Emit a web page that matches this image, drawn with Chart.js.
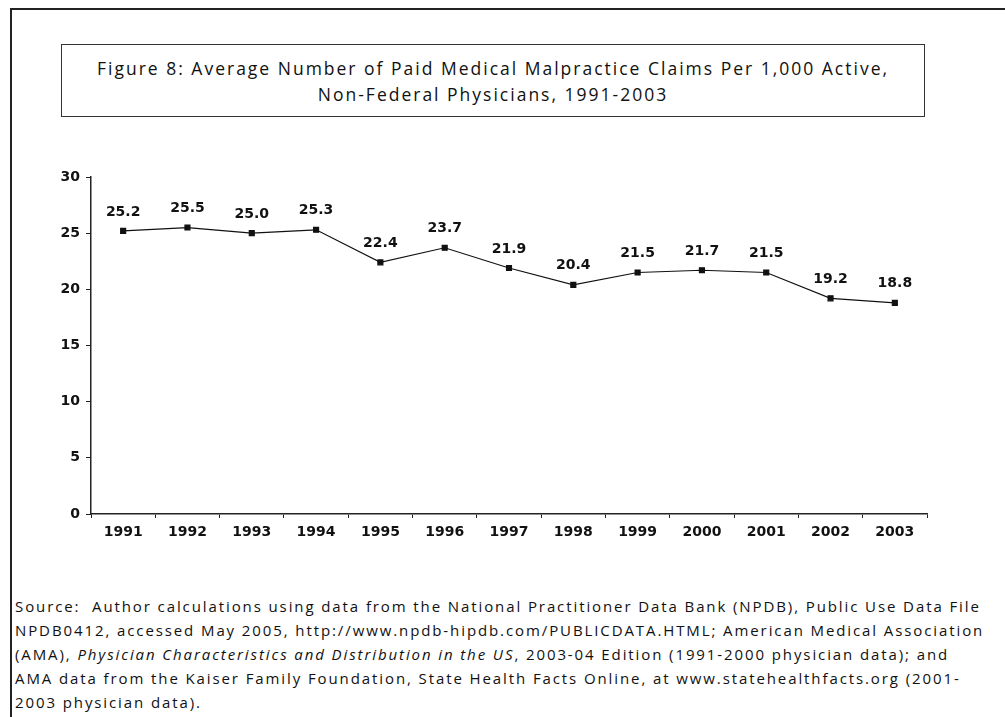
<!DOCTYPE html>
<html>
<head>
<meta charset="utf-8">
<script src="https://cdn.jsdelivr.net/npm/chart.js@4.4.1/dist/chart.umd.min.js"></script>
<style>
  html, body { margin: 0; padding: 0; background: #fff; }
  body { width: 1005px; height: 717px; position: relative; overflow: hidden; }
  #frame { position: absolute; left: 10px; top: 8px; width: 1000px; height: 720px;
           border-left: 2px solid #222; border-top: 2px solid #222; }
  #titlebox { position: absolute; left: 61px; top: 44px; width: 862px; height: 71px;
              border: 1.5px solid #333; font-family: "Open Sans", "Noto Sans", sans-serif;
              font-size: 17.5px; letter-spacing: 2px; color: #111; text-align: center; line-height: 26px;
              box-sizing: content-box; }
  #titlebox .inner { padding-top: 10px; }
  #source { position: absolute; left: 15px; top: 594px; width: 990px;
            font-family: "Open Sans", "Noto Sans", sans-serif; font-size: 15px; letter-spacing: 1.9px;
            color: #111; line-height: 24px; white-space: nowrap; }
  #wrap { position: absolute; left: 0; top: 150px; width: 1005px; height: 400px; }
</style>
</head>
<body>
<div id="frame"></div>
<div id="titlebox"><div class="inner">Figure 8: Average Number of Paid Medical Malpractice Claims Per 1,000 Active,<br>Non-Federal Physicians, 1991-2003</div></div>
<div id="wrap"><canvas id="c" width="1005" height="400"></canvas></div>
<div id="source">Source:&nbsp; Author calculations using data from the National Practitioner Data Bank (NPDB), Public Use Data File<br>NPDB0412, accessed May 2005, http://www.npdb-hipdb.com/PUBLICDATA.HTML; American Medical Association<br>(AMA), <i>Physician Characteristics and Distribution in the US</i>, 2003-04 Edition (1991-2000 physician data); and<br>AMA data from the Kaiser Family Foundation, State Health Facts Online, at www.statehealthfacts.org (2001-<br>2003 physician data).</div>
<script>
const years = ["1991","1992","1993","1994","1995","1996","1997","1998","1999","2000","2001","2002","2003"];
const claims = [25.2, 25.5, 25.0, 25.3, 22.4, 23.7, 21.9, 20.4, 21.5, 21.7, 21.5, 19.2, 18.8];
const yTicks = [0, 5, 10, 15, 20, 25, 30];

const labelPlugin = {
  id: 'pointLabels',
  afterDatasetsDraw(chart) {
    const ctx = chart.ctx;
    const meta = chart.getDatasetMeta(0);
    ctx.save();
    ctx.font = 'bold 14px "DejaVu Sans", Verdana, sans-serif';
    ctx.fillStyle = '#111';
    ctx.textAlign = 'center';
    ctx.textBaseline = 'middle';
    meta.data.forEach((pt, i) => {
      ctx.fillText(claims[i].toFixed(1), pt.x, pt.y - 19);
    });
    ctx.restore();
  }
};

new Chart(document.getElementById('c'), {
  type: 'line',
  data: {
    labels: years,
    datasets: [{
      data: claims,
      borderColor: '#111',
      borderWidth: 1.2,
      pointStyle: 'rect',
      pointRadius: 3.5,
      pointBackgroundColor: '#111',
      pointBorderColor: '#111',
      tension: 0
    }]
  },
  options: {
    responsive: false,
    animation: false,
    layout: { padding: { left: 0, right: 78, top: 27, bottom: 0 } },
    plugins: { legend: { display: false }, tooltip: { enabled: false } },
    scales: {
      x: {
        offset: true,
        grid: { display: true, offset: true, drawOnChartArea: false, tickLength: 4, color: '#222' },
        border: { display: true, color: '#222', width: 1.5 },
        ticks: { color: '#111', font: { family: '"DejaVu Sans", Verdana, sans-serif', size: 14, weight: 'bold' }, padding: 6, maxRotation: 0 },
        afterFit(scale) { scale.height = 36; }
      },
      y: {
        min: 0, max: 30,
        afterBuildTicks(scale) { scale.ticks = yTicks.map(v => ({ value: v })); },
        grid: { display: true, drawOnChartArea: false, tickLength: 5, color: '#222' },
        border: { display: true, color: '#222', width: 1.5 },
        ticks: { color: '#111', font: { family: '"DejaVu Sans", Verdana, sans-serif', size: 14, weight: 'bold' }, padding: 6 },
        afterFit(scale) { scale.width = 91; }
      }
    }
  },
  plugins: [labelPlugin]
});
</script>
</body>
</html>
